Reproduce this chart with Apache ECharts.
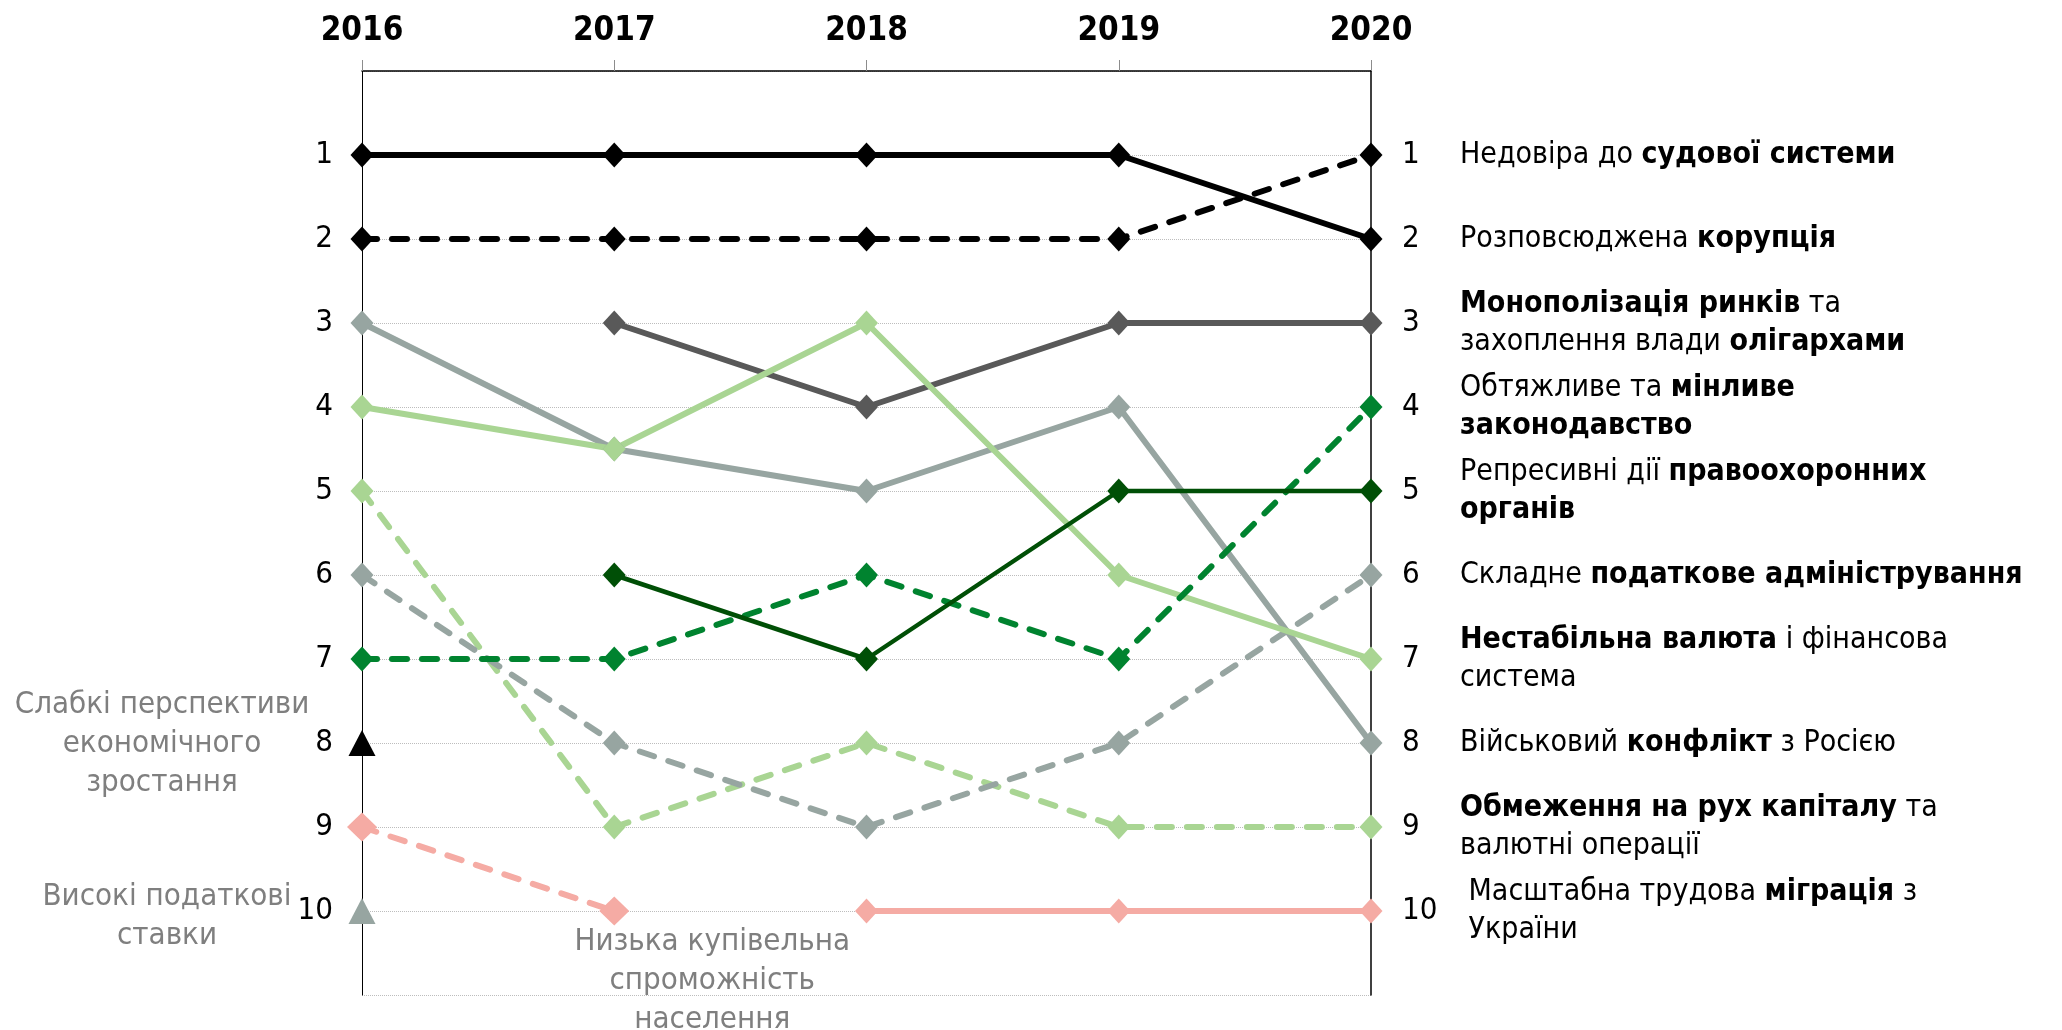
<!DOCTYPE html>
<html>
<head>
<meta charset="utf-8">
<script src="https://cdn.jsdelivr.net/npm/echarts@6/dist/echarts.min.js"></script>
<style>
  html, body { margin: 0; padding: 0; background: #fff; }
  #chart { width: 2062px; height: 1030px; }
</style>
</head>
<body>
<div id="chart"></div>
<script>
const FONT = '"DejaVu Sans Condensed", "DejaVu Sans", sans-serif';

// роки (верхня вісь)
const years = ["2016", "2017", "2018", "2019", "2020"];

// місце перешкоди у рейтингу за роками (null — не було в рейтингу)
const judiciary = [2, 2, 2, 2, 1];
const corruption = [1, 1, 1, 1, 2];
const monopoly = [null, 3, 4, 3, 3];
const legislation = [7, 7, 6, 7, 4];
const lawEnforcement = [null, 6, 7, 5, 5];
const taxAdmin = [6, 8, 9, 8, 6];
const currency = [4, 4.5, 3, 6, 7];
const warConflict = [3, 4.5, 5, 4, 8];
const capitalControls = [5, 9, 8, 9, 9];
const migration = [null, null, 10, 10, 10];
const purchasingPower = [9, 10, null, null, null];
const weakGrowth = [8, null, null, null, null];
const highTaxes = [10, null, null, null, null];

// підписи праворуч (за місцем у 2020 році)
const rankTexts = [
  "",
  "{r|Недовіра до }{b|судової системи}",
  "{r|Розповсюджена }{b|корупція}",
  "{b|Монополізація ринків}{r| та}\n{r|захоплення влади }{b|олігархами}",
  "{r|Обтяжливе та }{b|мінливе}\n{b|законодавство}",
  "{r|Репресивні дії }{b|правоохоронних}\n{b|органів}",
  "{r|Складне }{b|податкове адміністрування}",
  "{b|Нестабільна валюта}{r| і фінансова}\n{r|система}",
  "{r|Військовий }{b|конфлікт}{r| з Росією}",
  "{b|Обмеження на рух капіталу}{r| та}\n{r|валютні операції}",
  "{r| Масштабна трудова }{b|міграція}{r| з}\n{r| України}",
  "",
];

// підписи ліворуч / внизу для перешкод, що випали з рейтингу
const weakGrowthText = "Слабкі перспективи\nекономічного\nзростання";
const highTaxesText = "Високі податкові\nставки";
const purchasingText = "Низька купівельна\nспроможність\nнаселення";

const BLACK = "#000000";
const DARK_GREY = "#595959";
const GREY = "#97a5a1";
const LIGHT_GREEN = "#a9d593";
const GREEN = "#00832f";
const DARK_GREEN = "#004f06";
const PINK = "#f5aba4";

function rankLine(name, data, color, dashed, width, size) {
  return {
    name,
    type: "line",
    data,
    symbol: "diamond",
    symbolSize: size || [23, 25],
    itemStyle: { color, opacity: 1 },
    lineStyle: {
      color,
      width: width || 6,
      type: dashed ? [15, 15] : "solid",
      cap: dashed ? "round" : "butt",
    },
    connectNulls: false,
  };
}

const grayLabel = {
  show: true,
  position: "inside",
  fontFamily: FONT,
  fontSize: 31,
  lineHeight: 39,
  color: "#7f7f7f",
  align: "center",
  verticalAlign: "middle",
};

const chart = echarts.init(document.getElementById("chart"));

chart.setOption({
  animation: false,
  grid: { left: 362, right: 691, top: 71, bottom: 35 },
  xAxis: {
    type: "category",
    position: "top",
    data: years,
    boundaryGap: false,
    axisLine: { lineStyle: { color: "#000", width: 1.5 } },
    axisTick: { show: true, length: 11, lineStyle: { color: "#8c8c8c" } },
    axisLabel: {
      fontFamily: FONT,
      fontSize: 33,
      fontWeight: "bold",
      color: "#000",
      margin: 23,
    },
    splitLine: { show: false },
  },
  yAxis: [
    {
      type: "value",
      min: 0,
      max: 11,
      interval: 1,
      inverse: true,
      position: "left",
      axisLine: { show: true, lineStyle: { color: "#000", width: 1 } },
      axisTick: { show: false },
      axisLabel: {
        formatter: (v) => (v >= 1 && v <= 10 ? String(v) : ""),
        margin: 29,
        fontFamily: FONT,
        fontSize: 31,
        color: "#000",
      },
      splitLine: {
        show: true,
        lineStyle: { color: "#bdbdbd", type: "dotted", width: 1 },
      },
    },
    {
      type: "value",
      min: 0,
      max: 11,
      interval: 1,
      inverse: true,
      position: "right",
      axisLine: { show: true, lineStyle: { color: "#000", width: 1.5 } },
      axisTick: { show: false },
      axisLabel: {
        formatter: (v) => (v >= 1 && v <= 10 ? String(v) : ""),
        align: "left",
        margin: 31,
        fontFamily: FONT,
        fontSize: 31,
        color: "#000",
      },
      splitLine: { show: false },
    },
    {
      type: "value",
      min: 0,
      max: 11,
      interval: 1,
      inverse: true,
      position: "right",
      axisLine: { show: false },
      axisTick: { show: false },
      axisLabel: {
        formatter: (v) => rankTexts[v] || "",
        align: "left",
        margin: 89,
        lineHeight: 38,
        rich: {
          r: { fontFamily: FONT, fontSize: 30, color: "#000", lineHeight: 38 },
          b: {
            fontFamily: FONT,
            fontSize: 30,
            fontWeight: "bold",
            color: "#000",
            lineHeight: 38,
          },
        },
      },
      splitLine: { show: false },
    },
  ],
  series: [
    rankLine("Недовіра до судової системи", judiciary, BLACK, true),
    rankLine("Розповсюджена корупція", corruption, BLACK, false),
    rankLine("Монополізація ринків", monopoly, DARK_GREY, false),
    rankLine("Обмеження на рух капіталу", capitalControls, LIGHT_GREEN, true),
    rankLine("Складне податкове адміністрування", taxAdmin, GREY, true),
    rankLine("Військовий конфлікт", warConflict, GREY, false),
    rankLine("Нестабільна валюта", currency, LIGHT_GREEN, false),
    rankLine("Обтяжливе законодавство", legislation, GREEN, true),
    rankLine("Репресивні дії правоохоронних органів", lawEnforcement, DARK_GREEN, false, 4.5),
    rankLine("Масштабна трудова міграція", migration, PINK, false),
    rankLine(
      "Низька купівельна спроможність",
      purchasingPower.map((v, i) =>
        i === 1
          ? {
              value: v,
              label: Object.assign({}, grayLabel, {
                formatter: purchasingText,
                offset: [98, 70],
              }),
            }
          : v
      ),
      PINK,
      true,
      6,
      [30, 29]
    ),
    {
      name: "Слабкі перспективи економічного зростання",
      type: "scatter",
      symbol: "triangle",
      symbolSize: [27, 26],
      itemStyle: { color: BLACK, opacity: 1 },
      data: weakGrowth,
      label: Object.assign({}, grayLabel, {
        formatter: weakGrowthText,
        offset: [-200, 1],
      }),
    },
    {
      name: "Високі податкові ставки",
      type: "scatter",
      symbol: "triangle",
      symbolSize: [27, 26],
      itemStyle: { color: GREY, opacity: 1 },
      data: highTaxes,
      label: Object.assign({}, grayLabel, {
        formatter: highTaxesText,
        offset: [-195, 5],
      }),
    },
  ],
});
</script>
</body>
</html>
